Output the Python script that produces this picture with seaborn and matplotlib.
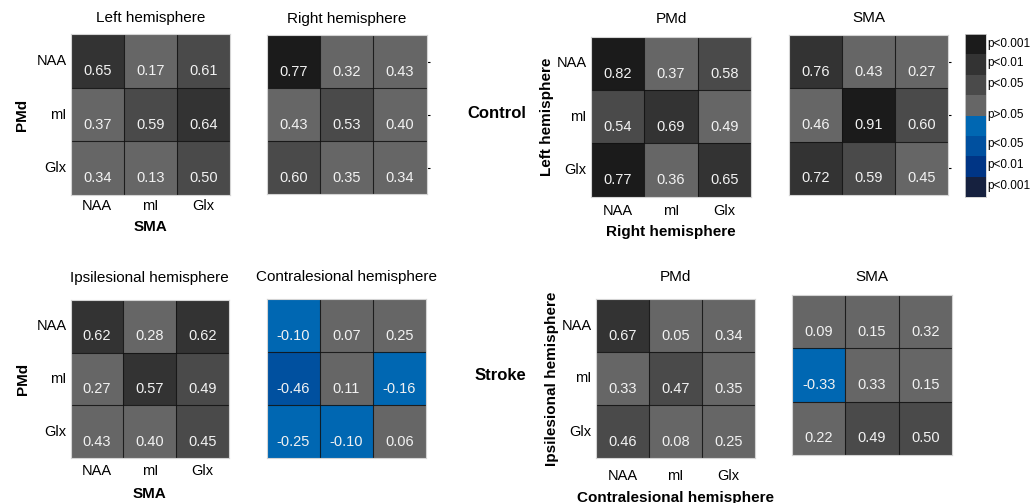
import numpy as np
import matplotlib
matplotlib.use("Agg")
import matplotlib.pyplot as plt
from matplotlib.colors import ListedColormap
import seaborn as sns

sns.set_style("white")
plt.rcParams["font.family"] = ["Liberation Sans", "DejaVu Sans"]
for key in ("text.color", "axes.labelcolor", "xtick.color", "ytick.color"):
    plt.rcParams[key] = "black"

metabolites = ["NAA", "mI", "Glx"]

# Significance codes: 0 = p<0.001, 1 = p<0.01, 2 = p<0.05, 3 = n.s.
# --- Control group ---
left_hemi_r = [[0.65, 0.17, 0.61], [0.37, 0.59, 0.64], [0.34, 0.13, 0.50]]
left_hemi_p = [[1, 3, 2], [3, 2, 1], [3, 3, 2]]
right_hemi_r = [[0.77, 0.32, 0.43], [0.43, 0.53, 0.40], [0.60, 0.35, 0.34]]
right_hemi_p = [[0, 3, 3], [3, 2, 3], [2, 3, 3]]
control_pmd_r = [[0.82, 0.37, 0.58], [0.54, 0.69, 0.49], [0.77, 0.36, 0.65]]
control_pmd_p = [[0, 3, 2], [2, 1, 3], [0, 3, 1]]
control_sma_r = [[0.76, 0.43, 0.27], [0.46, 0.91, 0.60], [0.72, 0.59, 0.45]]
control_sma_p = [[1, 3, 3], [3, 0, 2], [1, 2, 3]]
# --- Stroke group ---
ipsi_hemi_r = [[0.62, 0.28, 0.62], [0.27, 0.57, 0.49], [0.43, 0.40, 0.45]]
ipsi_hemi_p = [[1, 3, 1], [3, 1, 2], [3, 3, 2]]
contra_hemi_r = [[-0.10, 0.07, 0.25], [-0.46, 0.11, -0.16], [-0.25, -0.10, 0.06]]
contra_hemi_p = [[3, 3, 3], [2, 3, 3], [3, 3, 3]]
stroke_pmd_r = [[0.67, 0.05, 0.34], [0.33, 0.47, 0.35], [0.46, 0.08, 0.25]]
stroke_pmd_p = [[1, 3, 3], [3, 2, 3], [2, 3, 3]]
stroke_sma_r = [[0.09, 0.15, 0.32], [-0.33, 0.33, 0.15], [0.22, 0.49, 0.50]]
stroke_sma_p = [[3, 3, 3], [3, 3, 3], [3, 2, 2]]

# Colour scale: positive correlations in greys, negative ones in blues
level_colors = ["#1b1b1b", "#333333", "#4a4a4a", "#666666",
                "#0067b2", "#00509f", "#003585", "#16213f"]
level_labels = ["p<0.001", "p<0.01", "p<0.05", "p>0.05",
                "p<0.05", "p<0.01", "p<0.001"]
level_tick_pos = [0.44, 1.37, 2.4, 3.92, 5.34, 6.37, 7.4]
cmap = ListedColormap(level_colors)

W, H = 1034, 503
fig = plt.figure(figsize=(W / 100, H / 100), dpi=100)


def add_px_axes(x0, y0, x1, y1):
    return fig.add_axes([x0 / W, 1 - y1 / H, (x1 - x0) / W, (y1 - y0) / H])


def color_index(r, p):
    r = np.asarray(r)
    p = np.asarray(p)
    return np.where(r >= 0, p, 7 - p)


def panel(rect, r, p, title, title_pad, xlab=None, ylab=None,
          ticks=True, right_marks=False, xlab_y=-0.17, ylab_x=-0.25,
          xtick_pad=3):
    ax = add_px_axes(*rect)
    sns.heatmap(color_index(r, p), cmap=cmap, vmin=-0.5, vmax=7.5,
                annot=np.asarray(r), fmt=".2f", cbar=False, ax=ax,
                annot_kws=dict(color="#f2f2f2", fontsize=10.5),
                xticklabels=metabolites, yticklabels=metabolites)
    # values sit in the lower part of each cell
    for t in ax.texts:
        x, y = t.get_position()
        t.set_position((x, y + 0.19))
    for k in (1, 2):
        ax.axhline(k, color="#111111", lw=0.8, alpha=0.85)
        ax.axvline(k, color="#111111", lw=0.8, alpha=0.85)
    for s in ax.spines.values():
        s.set_visible(True)
        s.set_color("#d4d4d4")
        s.set_linewidth(0.8)
    ax.set_title(title, fontsize=11, pad=title_pad)
    if ticks:
        ax.tick_params(length=0, labelsize=10.5, pad=xtick_pad)
        ax.tick_params(axis="y", pad=3, labelrotation=0)
        ax.tick_params(axis="x", labelrotation=0)
    else:
        ax.tick_params(bottom=False, left=False, labelbottom=False,
                       labelleft=False)
        if right_marks:
            ax.tick_params(axis="y", right=True, length=2, width=0.8,
                           color="black", labelright=False)
    if xlab:
        ax.set_xlabel(xlab, fontsize=11, fontweight="bold")
        ax.xaxis.set_label_coords(0.5, xlab_y)
    if ylab:
        ax.set_ylabel(ylab, fontsize=11, fontweight="bold")
        ax.yaxis.set_label_coords(ylab_x, 0.5)
    return ax


# Top row: control group
panel((70.7, 34.3, 230, 195), left_hemi_r, left_hemi_p, "Left hemisphere", 9,
      xlab="SMA", ylab="PMd", xlab_y=-0.155, ylab_x=-0.262, xtick_pad=3)
panel((266.7, 35, 426.7, 194), right_hemi_r, right_hemi_p, "Right hemisphere", 9,
      ticks=False, right_marks=True)
panel((591, 36.7, 751, 196.7), control_pmd_r, control_pmd_p, "PMd", 10,
      xlab="Right hemisphere", ylab="Left hemisphere",
      xlab_y=-0.175, ylab_x=-0.23, xtick_pad=5)
panel((789, 35, 948, 195), control_sma_r, control_sma_p, "SMA", 9,
      ticks=False, right_marks=True)

# Bottom row: stroke group
panel((70.7, 300, 229, 458), ipsi_hemi_r, ipsi_hemi_p, "Ipsilesional hemisphere", 13,
      xlab="SMA", ylab="PMd", xlab_y=-0.185, ylab_x=-0.257, xtick_pad=4)
panel((267, 299, 426, 458), contra_hemi_r, contra_hemi_p,
      "Contralesional hemisphere", 13, ticks=False)
panel((596, 299, 755, 458), stroke_pmd_r, stroke_pmd_p, "PMd", 13,
      xlab="Contralesional hemisphere", ylab="Ipsilesional hemisphere",
      xlab_y=-0.207, ylab_x=-0.233, xtick_pad=8)
panel((792, 295, 952, 455), stroke_sma_r, stroke_sma_p, "SMA", 10, ticks=False)

# Group labels
fig.text(497 / W, 1 - 114 / H, "Control", fontsize=12, fontweight="bold",
         ha="center", va="center")
fig.text(500 / W, 1 - 375 / H, "Stroke", fontsize=12, fontweight="bold",
         ha="center", va="center")

# Discrete colour key
cax = add_px_axes(965, 34, 986, 197)
sns.heatmap(np.arange(len(level_colors)).reshape(-1, 1), cmap=cmap,
            vmin=-0.5, vmax=7.5, cbar=False, ax=cax,
            xticklabels=False, yticklabels=False)
for s in cax.spines.values():
    s.set_visible(True)
    s.set_color("#cfcfcf")
    s.set_linewidth(0.6)
cax.yaxis.tick_right()
cax.set_yticks(level_tick_pos)
cax.set_yticklabels(level_labels)
cax.tick_params(axis="y", length=0, pad=1, labelsize=8.5, labelrotation=0,
                right=False, left=False)

fig.savefig("out.png", dpi=100)
